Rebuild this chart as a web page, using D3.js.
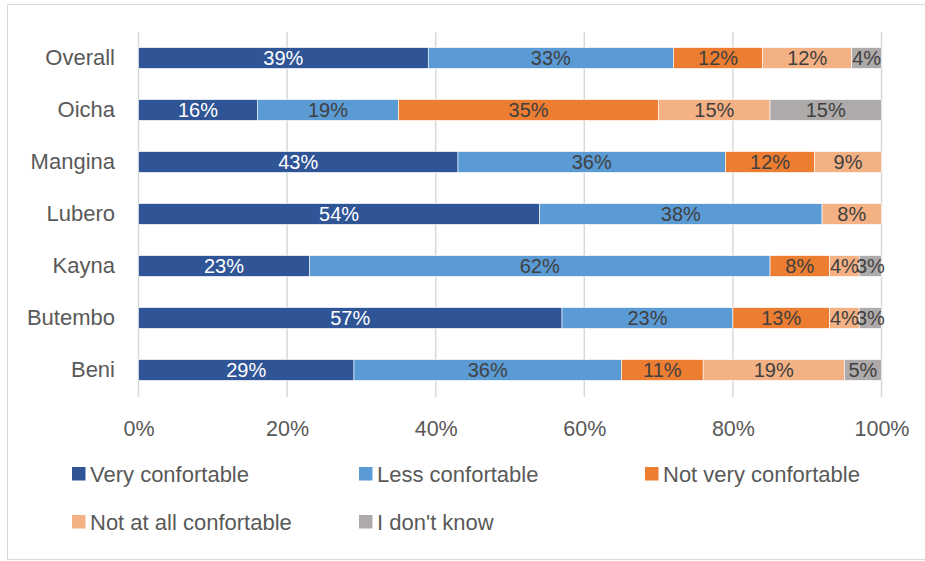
<!DOCTYPE html>
<html>
<head>
<meta charset="utf-8">
<script src="https://cdn.jsdelivr.net/npm/d3@7"></script>
<style>
  body { margin: 0; background: #fff; }
  text { font-family: "Liberation Sans", Arial, sans-serif; }
</style>
</head>
<body>
<script>
// chart data
var sites = ["Overall", "Oicha", "Mangina", "Lubero", "Kayna", "Butembo", "Beni"];
var seriesNames = ["Very confortable", "Less confortable", "Not very confortable", "Not at all confortable", "I don't know"];
var veryConf     = [39, 16, 43, 54, 23, 57, 29];
var lessConf     = [33, 19, 36, 38, 62, 23, 36];
var notVeryConf  = [12, 35, 12,  0,  8, 13, 11];
var notAtAllConf = [12, 15,  9,  8,  4,  4, 19];
var dontKnow     = [ 4, 15,  0,  0,  3,  3,  5];
var xTicks = [0, 20, 40, 60, 80, 100];

var colors = ["#2F5597", "#5B9BD5", "#ED7D31", "#F4B183", "#AEAAAA"];
var labelColors = ["#ffffff", "#404040", "#404040", "#404040", "#404040"];

var W = 925, H = 561;

var svg = d3.select("body").append("svg")
    .attr("width", W)
    .attr("height", H);

// chart border (right side runs off the picture)
svg.append("rect")
    .attr("x", 7.5).attr("y", 4.5)
    .attr("width", 940).attr("height", 555)
    .attr("fill", "#fff")
    .attr("stroke", "#D9D9D9");

var x = d3.scaleLinear().domain([0, 100]).range([138.5, 881.5]);
var y = d3.scaleBand().domain(sites).range([32, 396]).paddingInner(0.6).paddingOuter(0.3);

// gridlines
svg.append("g").selectAll("line")
    .data(xTicks)
  .enter().append("line")
    .attr("x1", function(d) { return x(d); })
    .attr("x2", function(d) { return x(d); })
    .attr("y1", 32).attr("y2", 397)
    .attr("stroke", "#D9D9D9")
    .attr("stroke-width", 1.5);

// stack the series per site
var table = sites.map(function(s, i) {
  return {site: s, vals: [veryConf[i], lessConf[i], notVeryConf[i], notAtAllConf[i], dontKnow[i]]};
});
var keys = d3.range(seriesNames.length);
var stack = d3.stack().keys(keys).value(function(d, k) { return d.vals[k]; });
var layers = stack(table);

var layer = svg.append("g").selectAll("g")
    .data(layers)
  .enter().append("g");

layer.selectAll("rect")
    .data(function(d) { return d; })
  .enter().append("rect")
    .attr("x", function(d) { return x(d[0]); })
    .attr("y", function(d) { return y(d.data.site); })
    .attr("width", function(d) { return x(d[1]) - x(d[0]); })
    .attr("height", y.bandwidth())
    .attr("fill", function(d) { return colors[d3.select(this.parentNode).datum().key]; })
    .attr("stroke", "#ffffff")
    .attr("stroke-width", 0.6);

// data labels
layer.selectAll("text")
    .data(function(d) { return d.filter(function(p) { return p[1] - p[0] > 0; }); })
  .enter().append("text")
    .attr("x", function(d) { return (x(d[0]) + x(d[1])) / 2; })
    .attr("y", function(d) { return y(d.data.site) + y.bandwidth() / 2; })
    .attr("dy", "0.36em")
    .attr("text-anchor", "middle")
    .attr("font-size", 20)
    .attr("fill", function(d) { return labelColors[d3.select(this.parentNode).datum().key]; })
    .text(function(d) { return (d[1] - d[0]) + "%"; });

// category axis
var yAxis = svg.append("g")
    .attr("transform", "translate(138,0)")
    .call(d3.axisLeft(y).tickSize(0).tickPadding(23));
yAxis.select(".domain").remove();
yAxis.selectAll("text")
    .attr("font-size", 22)
    .attr("fill", "#595959")
    .style("font-family", "'Liberation Sans', Arial, sans-serif");

// percent axis
var xAxis = svg.append("g")
    .attr("transform", "translate(0,418)")
    .call(d3.axisBottom(x).tickValues(xTicks).tickSize(0).tickFormat(function(d) { return d + "%"; }));
xAxis.select(".domain").remove();
xAxis.selectAll("text")
    .attr("font-size", 21.5)
    .attr("fill", "#595959")
    .style("font-family", "'Liberation Sans', Arial, sans-serif");

// legend
var legendPos = [[72, 474], [359, 474], [645, 474], [72, 522], [359, 522]];
var legend = svg.append("g").selectAll("g")
    .data(seriesNames)
  .enter().append("g")
    .attr("transform", function(d, i) { return "translate(" + legendPos[i][0] + "," + legendPos[i][1] + ")"; });
legend.append("rect")
    .attr("x", 0).attr("y", -7)
    .attr("width", 13.5).attr("height", 13.5)
    .attr("fill", function(d, i) { return colors[i]; });
legend.append("text")
    .attr("x", 18)
    .attr("dy", "0.36em")
    .attr("font-size", 22)
    .attr("fill", "#595959")
    .text(function(d) { return d; });
</script>
</body>
</html>
